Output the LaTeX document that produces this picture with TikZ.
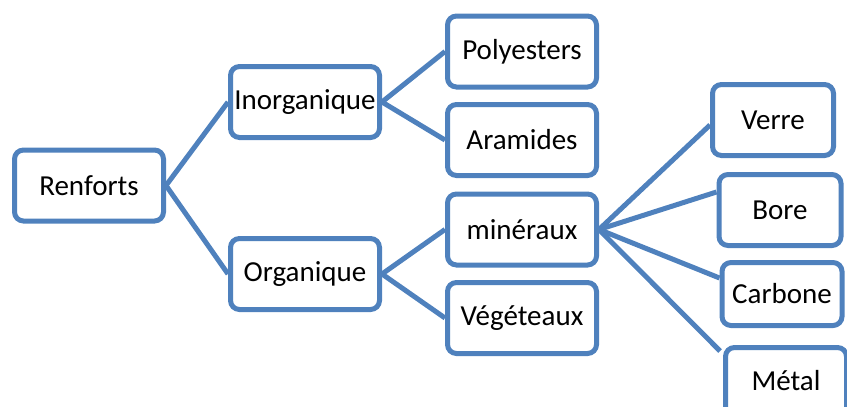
\documentclass[tikz,border=0pt]{standalone}
\usepackage{fontspec}
\setmainfont{Carlito}
\definecolor{boxblue}{HTML}{4F81BD}

\tikzset{
    box/.style={draw=boxblue, line width=5pt, rounded corners=9pt, fill=white,
        minimum width=149pt, minimum height=71pt, inner sep=0pt,
        font=\fontsize{29}{33}\selectfont},
    smallbox/.style={box, minimum width=121pt},
    link/.style={draw=boxblue, line width=5pt}
}

\begin{document}
\begin{tikzpicture}[x=1pt, y=1pt]
    \useasboundingbox (0,0) rectangle (847,-407);
    \clip (0,0) rectangle (847,-407);

    % levels 1 and 2
    \node[box] (renforts) at (89,-185.5) {Renforts};
    \node[box] (inorg) at (305,-102) {Inorganique};
    \node[box] (org) at (305,-274) {Organique};

    % level 3
    \node[box] (polyesters) at (522,-51.5) {Polyesters};
    \node[box] (aramides) at (522,-140) {Aramides};
    \node[box] (mineraux) at (522,-229.5) {minéraux};
    \node[box] (vegetaux) at (522,-318) {Végéteaux};

    % level 4
    \node[smallbox] (verre) at (773,-120) {Verre};
    \node[smallbox, minimum width=122pt] (bore) at (780,-210) {Bore};
    \node[smallbox, minimum width=120pt, minimum height=63pt] (carbone) at (782,-294) {Carbone};
    \node[smallbox] (metal) at (786,-383) {\raisebox{5pt}{Métal}};

    \draw[link] (renforts.east) -- (inorg.west);
    \draw[link] (renforts.east) -- (org.west);
    \draw[link] (inorg.east) -- (polyesters.west);
    \draw[link] (inorg.east) -- (aramides.west);
    \draw[link] (org.east) -- (mineraux.west);
    \draw[link] (org.east) -- (vegetaux.west);
    \draw[link] (mineraux.east) -- ([yshift=-5pt]verre.west);
    \draw[link] (mineraux.east) -- ([yshift=18pt]bore.west);
    \draw[link] (mineraux.east) -- ([yshift=16pt]carbone.west);
    \draw[link] (mineraux.east) -- ([xshift=-3pt, yshift=-6pt]metal.north west);
\end{tikzpicture}
\end{document}
